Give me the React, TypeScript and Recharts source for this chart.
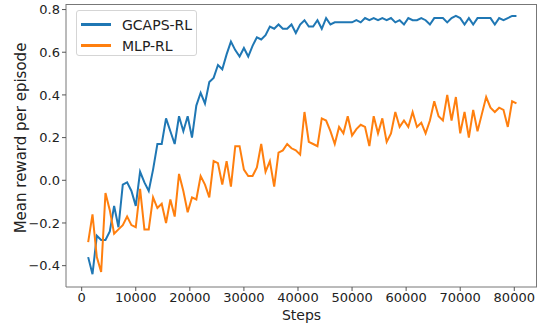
import { Line, LineChart, XAxis, YAxis } from "recharts";

const steps = [
  1200, 2000, 2800, 3600, 4400, 5200, 6000, 6800, 7600, 8400,
  9200, 10000, 10800, 11600, 12400, 13200, 14000, 14800, 15600, 16400,
  17200, 18000, 18800, 19600, 20400, 21200, 22000, 22800, 23600, 24400,
  25200, 26000, 26800, 27600, 28400, 29200, 30000, 30800, 31600, 32400,
  33200, 34000, 34800, 35600, 36400, 37200, 38000, 38800, 39600, 40400,
  41200, 42000, 42800, 43600, 44400, 45200, 46000, 46800, 47600, 48400,
  49200, 50000, 50800, 51600, 52400, 53200, 54000, 54800, 55600, 56400,
  57200, 58000, 58800, 59600, 60400, 61200, 62000, 62800, 63600, 64400,
  65200, 66000, 66800, 67600, 68400, 69200, 70000, 70800, 71600, 72400,
  73200, 74000, 74800, 75600, 76400, 77200, 78000, 78800, 79600, 80400,
];

const gcaps = [
  -0.36, -0.44, -0.26, -0.28, -0.28, -0.24, -0.12, -0.22, -0.02, -0.01,
  -0.05, -0.12, 0.04, -0.01, -0.05, 0.05, 0.17, 0.17, 0.29, 0.23,
  0.17, 0.3, 0.23, 0.3, 0.2, 0.35, 0.41, 0.36, 0.46, 0.48,
  0.54, 0.52, 0.59, 0.65, 0.61, 0.58, 0.62, 0.58, 0.63, 0.67,
  0.66, 0.68, 0.72, 0.71, 0.73, 0.71, 0.71, 0.73, 0.69, 0.73,
  0.75, 0.72, 0.72, 0.75, 0.71, 0.76, 0.73, 0.74, 0.74, 0.74,
  0.74, 0.74, 0.75, 0.74, 0.76, 0.75, 0.76, 0.75, 0.76, 0.75,
  0.76, 0.74, 0.75, 0.73, 0.76, 0.75, 0.75, 0.76, 0.75, 0.73,
  0.76, 0.76, 0.76, 0.74, 0.76, 0.77, 0.76, 0.73, 0.76, 0.73,
  0.76, 0.76, 0.76, 0.76, 0.73, 0.76, 0.75, 0.76, 0.77, 0.77,
];

const mlp = [
  -0.29, -0.16, -0.36, -0.43, -0.06, -0.14, -0.25, -0.23, -0.21, -0.17,
  -0.21, -0.22, -0.04, -0.23, -0.23, -0.08, -0.13, -0.11, -0.2, -0.09,
  -0.17, 0.03, -0.05, -0.15, -0.08, -0.09, 0.02, -0.02, -0.08, 0.09,
  0.08, -0.02, 0.09, -0.03, 0.16, 0.16, 0.05, 0.02, 0.02, 0.06,
  0.17, 0.04, 0.09, -0.03, 0.13, 0.14, 0.17, 0.15, 0.14, 0.12,
  0.32, 0.18, 0.17, 0.16, 0.29, 0.28, 0.23, 0.17, 0.25, 0.22,
  0.3, 0.21, 0.24, 0.26, 0.25, 0.16, 0.3, 0.22, 0.29, 0.18,
  0.22, 0.32, 0.25, 0.28, 0.25, 0.32, 0.25, 0.27, 0.22, 0.28,
  0.37, 0.3, 0.28, 0.4, 0.28, 0.39, 0.22, 0.32, 0.2, 0.33,
  0.23, 0.31, 0.39, 0.34, 0.32, 0.34, 0.33, 0.25, 0.37, 0.36,
];

const xTicks = [0, 10000, 20000, 30000, 40000, 50000, 60000, 70000, 80000];
const yTicks = [-0.4, -0.2, 0, 0.2, 0.4, 0.6, 0.8];

const X_DOMAIN: [number, number] = [-2900, 84200];
const Y_DOMAIN: [number, number] = [-0.5, 0.826];

const BLUE = "#1f77b4";
const ORANGE = "#ff7f0e";
const FONT = "DejaVu Sans";
const FRAME = "#777";

const rows = steps.map((step, i) => ({ step, gcaps: gcaps[i], mlp: mlp[i] }));

function fmtY(v: number) {
  return v.toFixed(1).replace("-", "\u2212");
}

const legendItems = [
  { name: "GCAPS-RL", color: BLUE },
  { name: "MLP-RL", color: ORANGE },
];

function LegendBox() {
  return (
    <div
      style={{
        position: "absolute",
        left: 76,
        top: 10,
        width: 121,
        height: 46,
        border: "1px solid #d5d5d5",
        borderRadius: 3,
        background: "rgba(255,255,255,0.8)",
        boxSizing: "border-box",
        padding: "3px 0 0 4px",
        fontFamily: FONT,
        fontSize: 14,
        color: "#222",
      }}
    >
      {legendItems.map((it) => (
        <div key={it.name} style={{ display: "flex", alignItems: "center", height: 21 }}>
          <span style={{ display: "inline-block", width: 30, height: 3, background: it.color, marginRight: 11 }} />
          <span>{it.name}</span>
        </div>
      ))}
    </div>
  );
}

export default function App() {
  return (
    <div style={{ position: "absolute", left: 0, top: 0, width: 542, height: 324, background: "#fff" }}>
      <LineChart width={542} height={324} data={rows} margin={{ top: 4, right: 5, bottom: 0, left: 0 }}>
        <XAxis
          dataKey="step"
          type="number"
          domain={X_DOMAIN}
          ticks={xTicks}
          allowDataOverflow
          height={37}
          tickSize={4}
          tickLine={{ stroke: "#555" }}
          axisLine={{ stroke: FRAME }}
          tick={{ fill: "#222", fontSize: 13, fontFamily: FONT }}
          label={{ value: "Steps", position: "insideBottom", offset: 4, fill: "#222", fontSize: 14, fontFamily: FONT }}
        />
        <YAxis
          type="number"
          domain={Y_DOMAIN}
          ticks={yTicks}
          allowDataOverflow
          width={66}
          tickSize={4}
          tickLine={{ stroke: "#555" }}
          axisLine={{ stroke: FRAME }}
          tickFormatter={fmtY}
          tick={{ fill: "#222", fontSize: 13, fontFamily: FONT }}
        />
        <Line type="linear" dataKey="gcaps" name="GCAPS-RL" stroke={BLUE} strokeWidth={2} dot={false} isAnimationActive={false} />
        <Line type="linear" dataKey="mlp" name="MLP-RL" stroke={ORANGE} strokeWidth={2} dot={false} isAnimationActive={false} />
      </LineChart>
      {/* top and right spines of the plot box */}
      <div
        style={{
          position: "absolute",
          left: 66,
          top: 4,
          width: 471,
          height: 283,
          borderTop: `1px solid ${FRAME}`,
          borderRight: `1px solid ${FRAME}`,
          boxSizing: "border-box",
          pointerEvents: "none",
        }}
      />
      <svg width={40} height={324} style={{ position: "absolute", left: 0, top: 0 }}>
        <text
          x={21}
          y={138}
          transform="rotate(-90 21 138)"
          textAnchor="middle"
          dominantBaseline="central"
          fill="#222"
          fontSize={15}
          fontFamily={FONT}
        >
          Mean reward per episode
        </text>
      </svg>
      <LegendBox />
    </div>
  );
}
